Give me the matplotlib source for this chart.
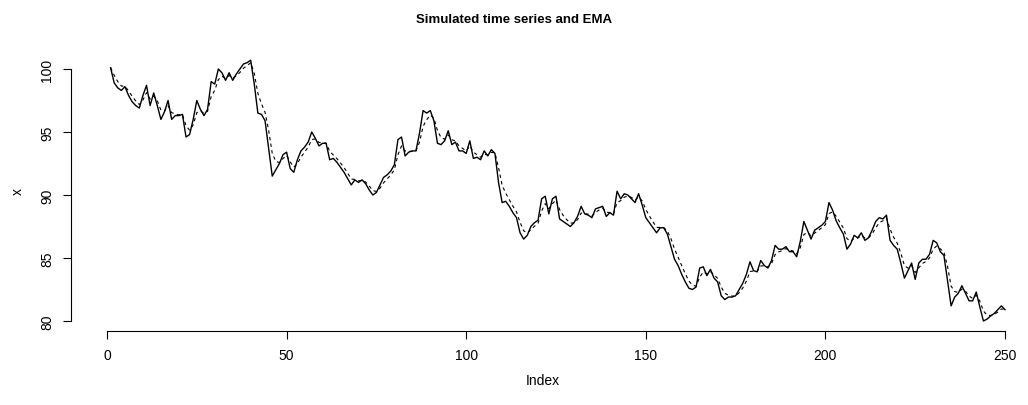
import numpy as np
import matplotlib
matplotlib.use("Agg")
import matplotlib.pyplot as plt

# simulated series, values (index 1..250)
x = [
    100.1, 98.9, 98.5, 98.3, 98.6, 97.9, 97.4, 97.1, 96.9, 97.9,
    98.7, 97.1, 98.1, 97.1, 96.0, 96.6, 97.5, 96.0, 96.3, 96.3,
    96.4, 94.6, 94.8, 96.0, 97.5, 96.8, 96.3, 96.8, 99.0, 98.8,
    100.0, 99.7, 99.1, 99.7, 99.1, 99.6, 100.0, 100.4, 100.5, 100.7,
    98.8, 96.5, 96.4, 95.9, 93.7, 91.5, 92.0, 92.5, 93.2, 93.4,
    92.1, 91.8, 92.8, 93.5, 93.8, 94.2, 95.0, 94.5, 93.9, 94.1,
    94.1, 92.8, 92.9, 92.6, 92.2, 91.8, 91.3, 90.8, 91.2, 91.0,
    91.2, 90.9, 90.4, 90.0, 90.2, 90.8, 91.4, 91.6, 91.9, 92.4,
    94.4, 94.6, 93.1, 93.4, 93.5, 93.5, 94.9, 96.7, 96.5, 96.7,
    95.9, 94.1, 94.0, 94.3, 95.1, 94.0, 94.2, 93.5, 93.5, 93.3,
    94.3, 92.9, 93.0, 92.8, 93.5, 93.1, 93.6, 93.3, 91.0, 89.4,
    89.5, 89.1, 88.6, 88.2, 87.0, 86.5, 86.8, 87.5, 87.8, 88.0,
    89.7, 89.9, 88.5, 89.7, 89.9, 88.1, 87.9, 87.7, 87.5, 87.8,
    88.3, 89.1, 88.5, 88.4, 88.2, 88.9, 89.0, 89.1, 88.3, 88.6,
    88.4, 90.3, 89.7, 90.1, 90.0, 89.7, 89.4, 90.1, 89.2, 88.2,
    87.8, 87.4, 87.0, 87.4, 87.4, 86.9, 85.9, 84.9, 84.4, 83.7,
    83.1, 82.6, 82.5, 82.7, 84.2, 84.3, 83.6, 84.1, 83.4, 83.1,
    82.0, 81.7, 81.9, 81.9, 82.0, 82.5, 83.0, 83.7, 84.7, 84.0,
    83.9, 84.8, 84.4, 84.2, 84.8, 86.0, 85.7, 85.7, 85.9, 85.5,
    85.5, 85.1, 86.3, 87.9, 87.2, 86.5, 87.2, 87.4, 87.6, 87.9,
    89.4, 88.8, 87.95, 87.4, 86.9, 85.7, 86.1, 86.8, 86.6, 87.0,
    86.4, 86.6, 87.2, 87.9, 88.2, 88.1, 88.4, 86.4, 86.0, 85.7,
    84.6, 83.4, 84.0, 84.6, 83.3, 84.6, 84.9, 84.9, 85.3, 86.4,
    86.2, 85.5, 85.2, 83.2, 81.2, 81.9, 82.2, 82.8, 82.2, 81.6,
    81.6, 82.3, 81.1, 80.0, 80.15, 80.4, 80.6, 80.9, 81.2, 80.9,
]
alpha = 0.5  # EMA smoothing

x = np.array(x)
idx = np.arange(1, len(x) + 1)
ema = np.empty_like(x)
ema[0] = x[0]
for i in range(1, len(x)):
    ema[i] = alpha * x[i] + (1 - alpha) * ema[i - 1]

plt.rcParams["font.family"] = ["Liberation Sans", "DejaVu Sans"]

W, H = 1028, 406
fig = plt.figure(figsize=(W / 100, H / 100), dpi=100)
L, R, T, B = 71, 1014, 51, 332
ax = fig.add_axes([L / W, 1 - B / H, (R - L) / W, (B - T) / H])

ax.plot(idx, x, color="black", lw=1.0)
ax.plot(idx, ema, color="black", lw=0.8, ls=(0, (3, 3)))

# pixel mapping from the reference: 0 -> 107px, 250 -> 1005px ; 100 -> 70px, 80 -> 322px
sx = (1005 - 107) / 250
sy = (322 - 70) / 20
ax.set_xlim((L - 107) / sx, (R - 107) / sx)
ax.set_ylim(80 - (B - 322) / sy, 100 + (70 - T) / sy)

ax.set_xticks([0, 50, 100, 150, 200, 250])
ax.set_yticks([80, 85, 90, 95, 100])
for s in ["top", "right"]:
    ax.spines[s].set_visible(False)
ax.spines["bottom"].set_bounds(0, 250)
ax.spines["left"].set_bounds(80, 100)
ax.tick_params(direction="out", length=6, width=0.8, labelsize=10, pad=6)
for lab in ax.get_yticklabels():
    lab.set_rotation(90)
    lab.set_va("center")

ax.set_xlabel("Index", fontsize=10, labelpad=8)
ax.set_ylabel("x", fontsize=10, labelpad=11)
fig.suptitle("Simulated time series and EMA", fontsize=9.5, fontweight="bold", y=0.965)

fig.savefig("out.png", dpi=100)
